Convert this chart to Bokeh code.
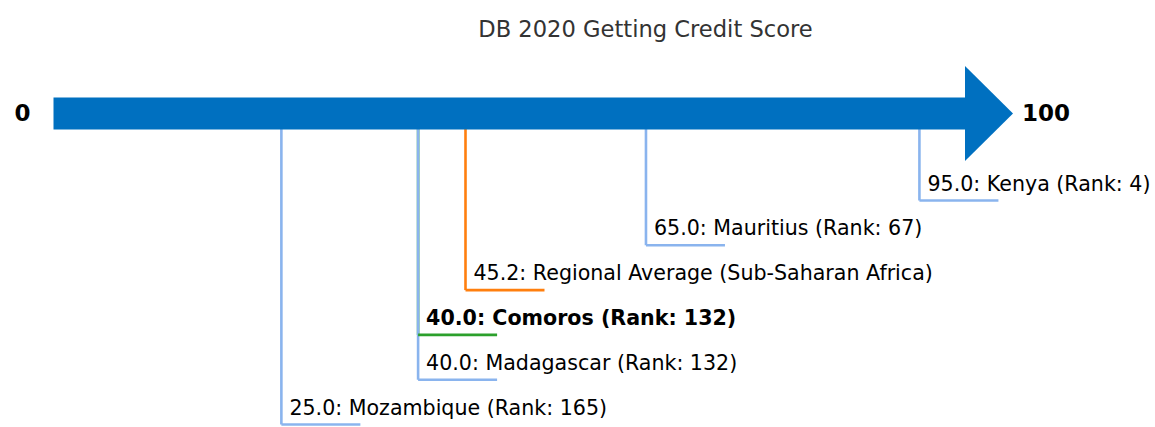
from bokeh.plotting import figure
from bokeh.models import Range1d, Label, ColumnDataSource
from bokeh.core.properties import value
from bokeh.embed import file_html
from bokeh.resources import INLINE

# ---- data ----
title_text = "DB 2020 Getting Credit Score"
names = ["Kenya", "Mauritius", "Regional Average (Sub-Saharan Africa)",
         "Comoros", "Madagascar", "Mozambique"]
scores = [95.0, 65.0, 45.2, 40.0, 40.0, 25.0]
ranks = [4, 67, None, 132, 132, 165]
focus_country = "Comoros"
regional_name = "Regional Average (Sub-Saharan Africa)"
scale_min, scale_max = 0, 100

# ---- layout constants ----
W, H = 1155, 427
PX = 9.115          # pixels per score unit
X0 = 53             # canvas px of score 0
LV = 44.8           # pixels per level
Y1 = 200            # canvas px of level 1
FONT = "DejaVu Sans"

def lvl(cy):
    return 1 + (cy - Y1) / LV

x_range = Range1d(-X0 / PX, (W - X0) / PX)
y_range = Range1d(lvl(H), lvl(0))

p = figure(width=W, height=H, x_range=x_range, y_range=y_range,
           output_backend="svg", toolbar_location=None, min_border=0)
p.axis.visible = False
p.grid.visible = False
p.outline_line_color = None
p.background_fill_color = "white"
p.border_fill_color = "white"

BLUE_LINE = "#8ab4ee"
ORANGE = "#ff7f0e"
GREEN = "#2ca02c"
ARROW = "#0070c0"

arrow_c = lvl(113)
half_shaft = 16 / LV
half_head = 47.5 / LV
head_len = 48 / PX
seg_len = 79 / PX

levels = list(range(1, len(names) + 1))
labels = []
colors = []
for n, s, r in zip(names, scores, ranks):
    if r is None:
        labels.append(f"{s:.1f}: {n}")
    else:
        labels.append(f"{s:.1f}: {n} (Rank: {r})")
    if n == regional_name:
        colors.append(ORANGE)
    elif n == focus_country:
        colors.append(GREEN)
    else:
        colors.append(BLUE_LINE)

# draw order: focus first so other verticals go over it
order = sorted(range(len(names)), key=lambda i: 0 if names[i] == focus_country else 1)
vx0, vy0, vx1, vy1, vc = [], [], [], [], []
hx0, hx1, hy, hc = [], [], [], []
for i in order:
    vx0.append(scores[i]); vx1.append(scores[i])
    vy0.append(arrow_c); vy1.append(levels[i]); vc.append(colors[i])
for i in range(len(names)):
    hx0.append(scores[i]); hx1.append(scores[i] + seg_len)
    hy.append(levels[i]); hc.append(colors[i])

p.segment(x0=vx0, y0=vy0, x1=vx1, y1=vy1, line_color=vc, line_width=2.6)
p.segment(x0=hx0, y0=hy, x1=hx1, y1=hy, line_color=hc, line_width=2.6)

# arrow
p.quad(left=[scale_min], right=[scale_max], top=[arrow_c - half_shaft],
       bottom=[arrow_c + half_shaft], fill_color=ARROW, line_color=None)
p.patch(x=[scale_max, scale_max, scale_max + head_len],
        y=[arrow_c - half_head, arrow_c + half_head, arrow_c],
        fill_color=ARROW, line_color=None)

# labels
norm = ColumnDataSource(dict(
    x=[scores[i] for i in range(len(names)) if names[i] != focus_country],
    y=[levels[i] for i in range(len(names)) if names[i] != focus_country],
    t=[labels[i] for i in range(len(names)) if names[i] != focus_country]))
bold = ColumnDataSource(dict(
    x=[scores[i] for i in range(len(names)) if names[i] == focus_country],
    y=[levels[i] for i in range(len(names)) if names[i] == focus_country],
    t=[labels[i] for i in range(len(names)) if names[i] == focus_country]))
p.text(x="x", y="y", text="t", source=norm, x_offset=8, y_offset=-17,
       text_font=value(FONT), text_font_size="20.6px", text_color="black",
       text_baseline="alphabetic", text_align="left")
p.text(x="x", y="y", text="t", source=bold, x_offset=8, y_offset=-17,
       text_font=value(FONT), text_font_size="20.6px", text_color="black",
       text_font_style="bold", text_baseline="alphabetic", text_align="left")

# scale end labels
p.text(x=[scale_min], y=[arrow_c], text=[str(scale_min)], x_offset=-23, y_offset=-1,
       text_font=value(FONT), text_font_size="23px", text_font_style="bold",
       text_color="black", text_align="right", text_baseline="middle")
p.text(x=[scale_max], y=[arrow_c], text=[str(scale_max)], x_offset=57, y_offset=-1,
       text_font=value(FONT), text_font_size="23px", text_font_style="bold",
       text_color="black", text_align="left", text_baseline="middle")

# title
p.add_layout(Label(x=(645 - X0) / PX, y=lvl(28), text=title_text,
                   text_font=FONT, text_font_size="22.6px", text_color="#333333",
                   text_align="center", text_baseline="alphabetic"))

open("out.html", "w").write(file_html(p, INLINE))
